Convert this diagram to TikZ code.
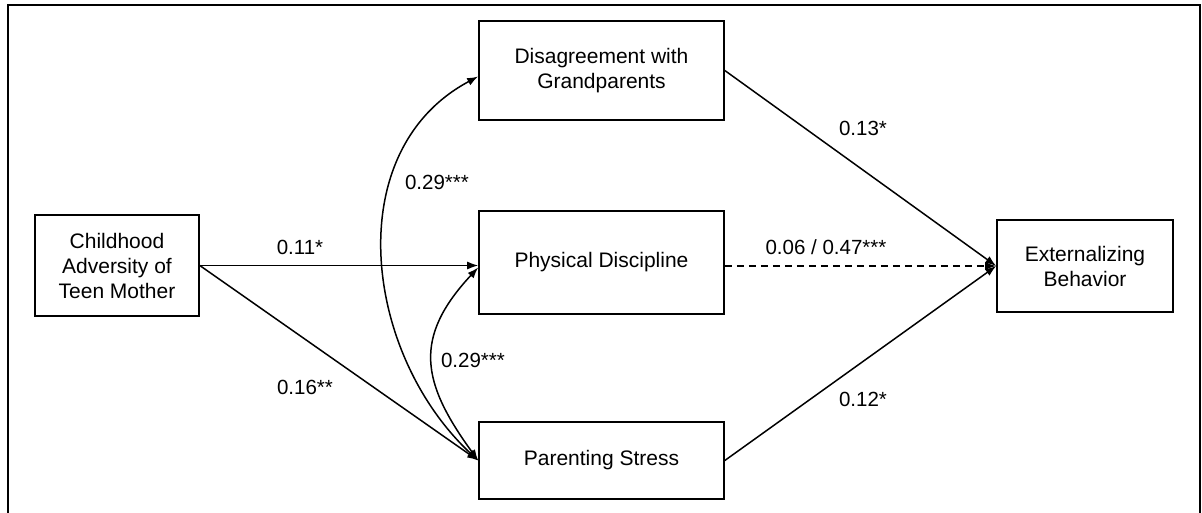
\documentclass[tikz,border=0pt]{standalone}
\usepackage{fontspec}
\setmainfont{Liberation Sans}
\usetikzlibrary{arrows.meta}

\begin{document}
\begin{tikzpicture}[x=1pt, y=1pt,
    var/.style={draw, line width=1.6pt, align=center, inner sep=0pt,
        font=\fontsize{21}{25}\selectfont},
    effect/.style={line width=1.5pt, -{Latex[length=11pt, width=8pt]}},
    cov/.style={line width=1.5pt, {Latex[length=11pt, width=8pt]}-{Latex[length=11pt, width=8pt]}},
    coef/.style={font=\fontsize{20.5}{24}\selectfont}]
    \useasboundingbox (0, 0) rectangle (1202, 512);
    \draw[line width=2.4pt] (8, -6) rectangle (1200, 507);

    % variables
    \node[var, minimum width=164pt, minimum height=101pt] (adv) at (117, 246.5)
        {Childhood\\Adversity of\\Teen Mother};
    \node[var, minimum width=245pt, minimum height=99pt] (disag) at (601.5, 441.5)
        {Disagreement with\\Grandparents};
    \node[var, minimum width=245pt, minimum height=103pt] (disc) at (601.5, 249.5)
        {Physical Discipline};
    \node[var, minimum width=245pt, minimum height=77pt] (stress) at (601.5, 51.5)
        {Parenting Stress};
    \node[var, minimum width=176pt, minimum height=92pt] (ext) at (1085, 246)
        {Externalizing\\Behavior};

    % paths
    \draw[effect] (adv.east) -- (adv.east -| disc.west);
    \draw[effect] (adv.east) -- (stress.west);
    \draw[effect] (disag.east) -- (ext.west);
    \draw[effect, dash pattern=on 7pt off 5pt] (disc.east |- ext.west) -- (ext.west);
    \draw[effect] (stress.east) -- (ext.west);

    % covariances
    \draw[cov] ([yshift=-6pt]disag.west) to[out=208, in=137, looseness=1.05] (stress.west);
    \draw[cov] ([yshift=-5pt]disc.west) to[out=227, in=126, looseness=1.28] (stress.west);

    % coefficients
    \node[coef] (b11) at (300, 265) {0.11*};
    \node[coef] (b16) at (305, 125) {0.16**};
    \node[coef] (r1) at (437, 330) {0.29***};
    \node[coef] (r2) at (473, 152) {0.29***};
    \node[coef] (b13) at (863, 384) {0.13*};
    \node[coef] (b06) at (826, 265) {0.06 / 0.47***};
    \node[coef] (b12) at (863, 113) {0.12*};
\end{tikzpicture}
\end{document}
